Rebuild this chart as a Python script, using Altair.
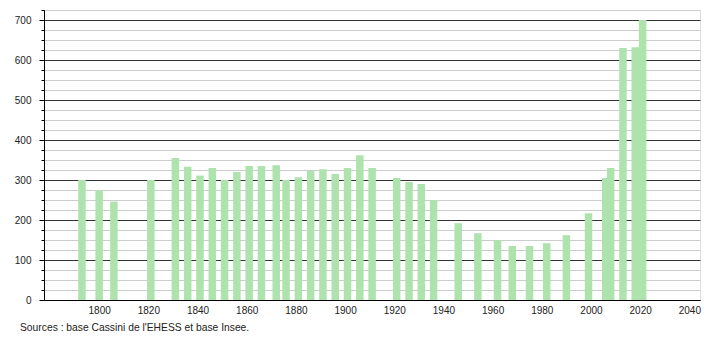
import altair as alt
import pandas as pd

years = [1793, 1800, 1806, 1821, 1831, 1836, 1841, 1846, 1851, 1856,
         1861, 1866, 1872, 1876, 1881, 1886, 1891, 1896, 1901, 1906,
         1911, 1921, 1926, 1931, 1936, 1946, 1954, 1962, 1968, 1975,
         1982, 1990, 1999, 2006, 2008, 2013, 2018, 2021]
population = [300, 274, 246, 300, 355, 333, 311, 330, 300, 320,
              335, 335, 337, 300, 307, 323, 327, 315, 330, 362,
              330, 305, 295, 290, 250, 192, 167, 150, 135, 135,
              142, 162, 217, 305, 330, 630, 632, 700]
x_ticks = [1800, 1820, 1840, 1860, 1880, 1900, 1920, 1940, 1960, 1980, 2000, 2020, 2040]
y_ticks = list(range(0, 726, 25))
source = "Sources : base Cassini de l'EHESS et base Insee."

FONT = "Liberation Sans"

df = pd.DataFrame({"year": years, "pop": population})

bars = alt.Chart(df).mark_bar(size=7.5, color="#aee3ae").encode(
    x=alt.X("year:Q",
            scale=alt.Scale(domain=[1779.6, 2042.3], nice=False, zero=False),
            axis=alt.Axis(values=x_ticks, title=None, grid=False, ticks=False,
                          domainColor="#000", labelFont=FONT, labelFontSize=10,
                          labelColor="#222", labelPadding=5, format="d",
                          labelFlush=False)),
    y=alt.Y("pop:Q",
            scale=alt.Scale(domain=[0, 725], nice=False),
            axis=alt.Axis(values=y_ticks, title=None, grid=True,
                          labelExpr="datum.value % 100 == 0 ? datum.label : ''",
                          gridColor={"condition": {"test": "datum.value % 100 == 0", "value": "#333333"},
                                     "value": "#cccccc"},
                          tickSize={"condition": {"test": "datum.value % 100 == 0", "value": 5},
                                    "value": 3},
                          tickColor="#000", domainColor="#000",
                          labelFont=FONT, labelFontSize=10, labelColor="#222",
                          labelPadding=8)),
)

note = alt.Chart(pd.DataFrame({"t": [source]})).mark_text(
    align="left", baseline="alphabetic", font=FONT, fontSize=10.3, color="#222"
).encode(x=alt.value(-24), y=alt.value(321), text="t:N")

chart = alt.layer(bars, note).properties(
    width=656, height=290,
    autosize=alt.AutoSizeParams(type="none"),
    padding={"left": 44, "top": 10, "right": 10, "bottom": 40},
).configure_view(stroke=None).configure(background="white")

chart.save("out.html", embed_options={"renderer": "svg", "actions": False})
